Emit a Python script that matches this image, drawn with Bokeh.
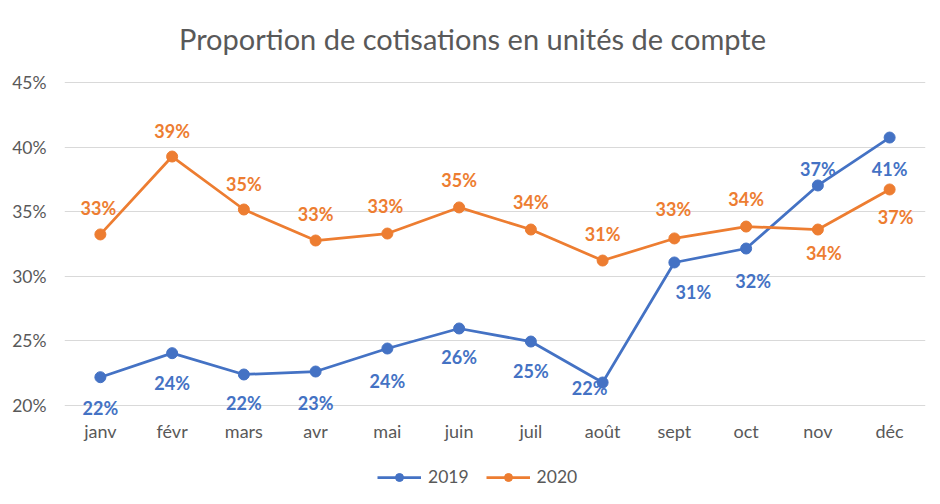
from bokeh.plotting import figure
from bokeh.models import ColumnDataSource, NumeralTickFormatter, Legend, LegendItem, FixedTicker, Range1d, LabelSet, Label
from bokeh.embed import file_html
from bokeh.resources import INLINE
from bokeh.core.properties import value

months = ["janv", "févr", "mars", "avr", "mai", "juin", "juil", "août", "sept", "oct", "nov", "déc"]
s2019 = [0.2219, 0.2405, 0.2240, 0.2263, 0.2441, 0.2596, 0.2495, 0.2178, 0.3107, 0.3215, 0.3703, 0.4074]
s2020 = [0.3324, 0.3927, 0.3517, 0.3277, 0.3331, 0.3533, 0.3362, 0.3122, 0.3293, 0.3385, 0.3362, 0.3672]
y_ticks = [0.20, 0.25, 0.30, 0.35, 0.40, 0.45]
series_names = ["2019", "2020"]
title_text = "Proportion de cotisations en unités de compte"

# label placement (screen pixel offsets, style only; positive y = up)
off2019 = [(0, -31), (0, -30), (0, -29), (0, -31), (0, -32), (0, -29), (0, -29), (-13, -5), (19, -30), (7, -32), (0, 16), (0, -31)]
off2020 = [(-2, 26), (0, 26), (0, 26), (0, 27), (-2, 28), (0, 27), (0, 28), (0, 27), (-1, 29), (0, 28), (6, -23), (6, -28)]

BLUE = "#4472C4"
ORANGE = "#ED7D31"
GREY = "#595959"
FONT = "Lato"

# layout (pixels)
W, H = 932, 496
TOP_BORDER, BOTTOM_BORDER = 0, 6
TOP_TICK_PX, LOW_TICK_PX = 82, 405  # pixel rows of the 45 % and 20 % gridlines
frame_h = H - TOP_BORDER - BOTTOM_BORDER
per_px = (y_ticks[-1] - y_ticks[0]) / (LOW_TICK_PX - TOP_TICK_PX)
y_end = y_ticks[-1] + (TOP_TICK_PX - TOP_BORDER) * per_px
y_start = y_ticks[0] - (TOP_BORDER + frame_h - LOW_TICK_PX) * per_px

p = figure(x_range=months, y_range=Range1d(y_start, y_end), width=W, height=H,
           output_backend="svg", toolbar_location=None,
           min_border_left=64, min_border_right=7, min_border_top=TOP_BORDER, min_border_bottom=BOTTOM_BORDER)

p.outline_line_color = None
p.background_fill_color = "white"
p.border_fill_color = "white"
p.xgrid.grid_line_color = None
p.ygrid.grid_line_color = "#d9d9d9"
p.ygrid.grid_line_width = 1.2

p.yaxis.ticker = FixedTicker(ticks=y_ticks)
p.yaxis.formatter = NumeralTickFormatter(format="0%")
p.xaxis.fixed_location = y_ticks[0]
for ax in (p.xaxis[0], p.yaxis[0]):
    ax.axis_line_color = None
    ax.major_tick_line_color = None
    ax.minor_tick_line_color = None
    ax.major_label_text_font = FONT
    ax.major_label_text_color = GREY
p.yaxis.major_label_text_font_size = "17.5px"
p.xaxis.major_label_text_font_size = "18px"
p.yaxis.major_label_standoff = 12
p.xaxis.major_label_standoff = 8

title = Label(x=408, y=frame_h - 38, x_units="screen", y_units="screen", text=title_text,
              text_align="center", text_baseline="middle", text_font=FONT,
              text_font_size="29px", text_color=GREY)
p.add_layout(title)

items = []
for name, vals, offs, color in ((series_names[0], s2019, off2019, BLUE), (series_names[1], s2020, off2020, ORANGE)):
    src = ColumnDataSource(dict(
        x=months, y=vals,
        label=[f"{round(v * 100)}%" for v in vals],
        dx=[o[0] for o in offs], dy=[o[1] for o in offs],
    ))
    ln = p.line("x", "y", source=src, line_color=color, line_width=2.75)
    sc = p.scatter("x", "y", source=src, size=11, fill_color=color, line_color=color)
    labels = LabelSet(x="x", y="y", text="label", source=src, x_offset="dx", y_offset="dy",
                      text_align="center", text_baseline="middle", text_font=value(FONT),
                      text_font_style="bold", text_font_size="18px", text_color=color)
    p.add_layout(labels)
    items.append(LegendItem(label=name, renderers=[ln, sc]))

legend = Legend(items=items, orientation="horizontal", location=(313, 3),
                border_line_color=None, background_fill_alpha=0,
                glyph_width=44, glyph_height=20, label_height=20,
                label_standoff=7, spacing=17, padding=0, margin=0,
                label_text_font=FONT, label_text_font_size="17.5px", label_text_color=GREY)
p.add_layout(legend)

open("out.html", "w").write(file_html(p, INLINE))
